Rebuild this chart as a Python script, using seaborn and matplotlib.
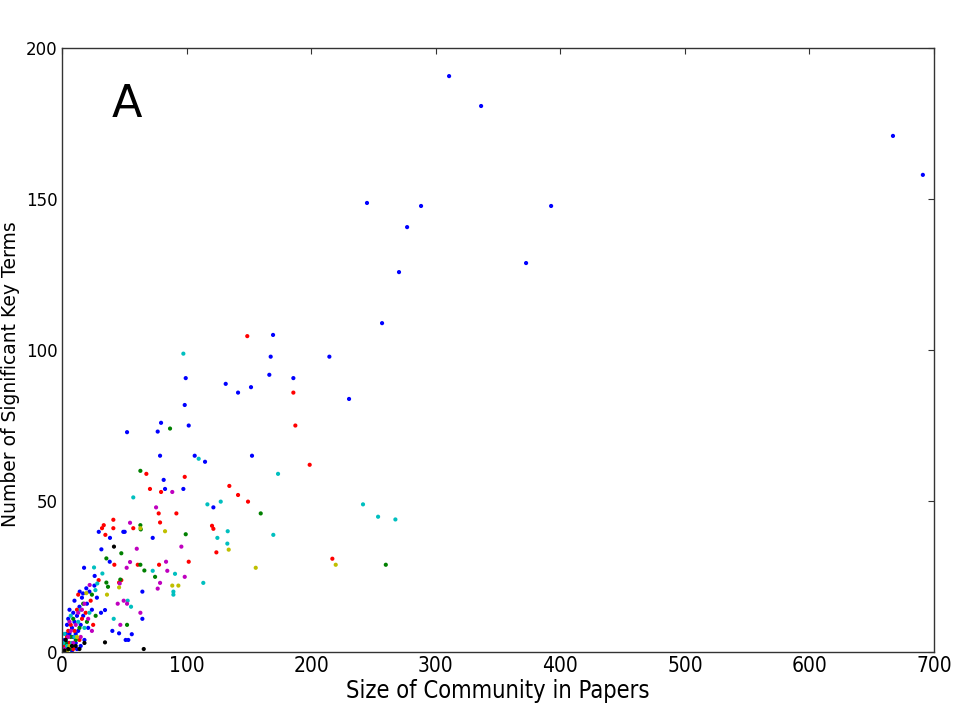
import pandas as pd
import matplotlib
matplotlib.use("Agg")
import matplotlib.pyplot as plt
import seaborn as sns

# community sizes (papers) vs number of significant key terms, per colour group
blue_x = [310.7, 336.4, 667, 691, 244.8, 288.2, 392.6, 277, 270.5, 372.5, 256.9, 169.4, 214.6, 167.5,
          166.4, 185.7, 99.3, 131.4, 151.7, 141.3, 230.4, 98.5, 101.7, 79.5, 76.8, 52.2, 78.7, 106.5,
          114.8, 152.5, 81.6, 82.7, 97.4, 121.5, 72.8, 29.5, 49.2, 50.3, 38.5, 31.6, 17.7, 38.3, 26.2,
          19.5, 14.2, 16.9, 34.5, 31.3, 40.4, 45.8, 51.1, 53.2, 56, 64.5, 64.5,
          1, 2, 3, 4, 5, 2, 6, 7, 8, 9, 10, 11, 12, 13, 14, 15, 16, 17, 20, 22, 24, 28, 12, 8, 5, 3,
          21, 10, 26, 6, 18, 15, 9, 4, 11]
blue_y = [190.7, 180.8, 170.9, 158, 148.7, 147.7, 147.7, 140.7, 125.8, 128.8, 108.9, 105, 97.8, 97.8,
          91.8, 90.7, 90.7, 88.8, 87.7, 85.9, 83.8, 81.8, 75, 75.9, 73, 72.8, 65, 65,
          63, 65, 57, 54, 54, 47.9, 37.8, 39.8, 39.8, 39.8, 37.8, 34, 27.9, 29.9, 25.2,
          21.1, 20, 19.4, 13.9, 13, 7, 6.2, 4, 4, 5.9, 11, 20,
          1, 0.5, 2, 1, 3, 4, 6, 2, 8, 5, 10, 3, 12, 7, 15, 9, 18, 12, 16, 20, 14, 18, 1, 0.5, 11, 6,
          8, 17, 22, 14, 4, 2, 13, 9, 6]

red_x = [148.7, 185.7, 187.3, 198.8, 98.5, 70.6, 79.5, 134.3, 141.3, 149.3, 77.6, 91.8, 78.7, 120.4,
         121.5, 123.9, 77.9, 101.7, 217, 67.7, 41.2, 32.1, 33.5, 34.8, 41.2, 57.2, 42, 60.8, 29.4,
         47.6, 45.8, 2, 4, 6, 7, 9, 10, 12, 14, 16, 19, 23, 25, 5, 13, 3]
red_y = [104.6, 85.9, 75, 62, 58, 54, 53, 55, 52, 49.8, 45.9, 45.9, 42.9, 41.8,
         40.8, 33, 28.9, 29.9, 30.9, 59, 43.8, 41, 42, 38.8, 41, 41, 28.9, 28.9, 23.8,
         23.8, 23, 2, 5, 3, 9, 1, 7, 14, 4, 11, 13, 17, 9, 7, 19, 0.5]

green_x = [86.7, 62.9, 159.5, 99.3, 259.9, 62.9, 63.2, 47.6, 35.6, 62.9, 66.1, 35.6, 36.9, 46.8, 52.2,
           74.7, 3, 6, 9, 11, 14, 17, 20, 24, 7, 27]
green_y = [74, 60, 45.9, 39, 28.9, 42, 40.6, 32.7, 31, 28.9, 27, 23, 21.6, 24, 9,
           24.9, 3, 1, 11, 4, 8, 16, 10, 19, 5, 12]

cyan_x = [97.4, 109.7, 57.2, 173.4, 127.4, 116.7, 241.6, 253.7, 267.6, 133, 169.6, 124.7, 132.7, 72.8,
          90.7, 113.4, 89.4, 89.4, 25.7, 32.4, 28.3, 26.8, 52.7, 55.4, 41.5,
          1, 4, 7, 10, 13, 15, 18, 22, 2, 8]
cyan_y = [98.8, 64, 51.2, 59, 49.8, 48.9, 48.9, 44.8, 43.9, 40, 38.8, 37.8, 35.9, 26.9,
          25.9, 22.9, 20, 19, 28, 26, 22.7, 20.5, 17, 15, 11,
          3, 2, 12, 5, 10, 14, 8, 13, 6, 3]

magenta_x = [88.5, 75.5, 54.6, 95.8, 60, 83.5, 54.6, 51.9, 84.5, 98.5, 78.7, 76.8, 46.3, 22.2, 49.5,
             52.2, 44.7, 62.9, 46.8, 2, 5, 7, 9, 11, 13, 15, 18, 21, 24, 6, 16]
magenta_y = [53, 47.9, 42.8, 34.9, 34.2, 29.9, 29.8, 27.9, 26.9, 24.9, 22.9, 21, 22.7, 22.2, 17,
             16, 16, 13, 9, 1, 5, 7, 3, 9, 13, 5, 16, 11, 7, 10, 14]

yellow_x = [82.7, 62.9, 133.8, 155.5, 219.7, 88.5, 93.4, 45.8, 36.1, 19.5, 6, 12, 4]
yellow_y = [40, 41, 33.9, 27.9, 28.9, 22, 22, 21.4, 19, 19.5, 2, 5, 0.5]

black_x = [34.5, 65.6, 41.7, 2, 5, 8, 11, 14, 3, 18]
black_y = [3.2, 1, 34.9, 0.5, 1, 2, 2, 1, 4, 3]

groups = {
    'b': (blue_x, blue_y), 'r': (red_x, red_y), 'g': (green_x, green_y),
    'c': (cyan_x, cyan_y), 'm': (magenta_x, magenta_y), 'y': (yellow_x, yellow_y),
    'k': (black_x, black_y),
}
frames = [pd.DataFrame({'size': xs, 'terms': ys, 'group': g}) for g, (xs, ys) in groups.items()]
df = pd.concat(frames, ignore_index=True)

palette = {'b': (0, 0, 1), 'g': (0, 0.5, 0), 'r': (1, 0, 0), 'c': (0, 0.75, 0.75),
           'm': (0.75, 0, 0.75), 'y': (0.75, 0.75, 0), 'k': (0, 0, 0)}

sns.set_style("white")
plt.rcParams['font.family'] = ['DejaVu Sans']
plt.rcParams['text.color'] = 'black'
plt.rcParams['axes.labelcolor'] = 'black'

fig = plt.figure(figsize=(9.6, 7.2), dpi=100)
ax = fig.add_axes([0.0646, 0.0944, 0.9084, 0.8389])

sns.scatterplot(data=df, x='size', y='terms', hue='group', palette=palette,
                s=9, linewidth=0, legend=False, ax=ax)

ax.set_xlim(0, 700)
ax.set_ylim(0, 200)
ax.set_xticks(range(0, 701, 100))
ax.set_yticks(range(0, 201, 50))
ax.tick_params(direction='in', length=4, width=0.8, top=True, right=True,
               labelsize=12, pad=3, color='#333333', labelcolor='black')
for lab in ax.get_xticklabels():
    lab.set_fontstretch('condensed')
    lab.set_fontsize(15)

for sp in ax.spines.values():
    sp.set_color('#333333')
    sp.set_linewidth(1)

ax.set_xlabel('Size of Community in Papers', fontsize=17, fontstretch='condensed', labelpad=2)
ax.set_ylabel('Number of Significant Key Terms', fontsize=13.5)
ax.yaxis.set_label_coords(-0.048, 0.46)
ax.text(0.0745, 0.907, 'A', transform=ax.transAxes, fontsize=32, ha='center', va='center',
        color='black')

fig.savefig('out.png', dpi=100)
